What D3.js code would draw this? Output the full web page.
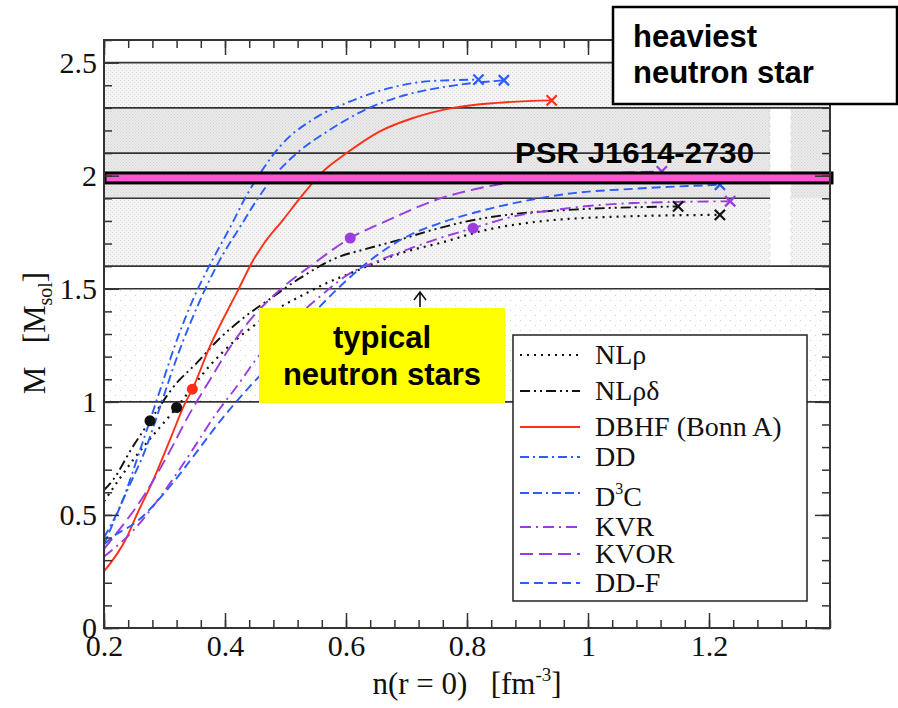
<!DOCTYPE html>
<html>
<head>
<meta charset="utf-8">
<script src="https://cdn.jsdelivr.net/npm/d3@7"></script>
<style>
  body { margin: 0; background: #fff; }
  svg { display: block; }
  .serif, .serif text { font-family: 'Liberation Serif', 'DejaVu Serif', serif; }
  .sans { font-family: 'Liberation Sans', 'DejaVu Sans', sans-serif; font-weight: bold; }
</style>
</head>
<body>
<div id="chart"></div>
<script>
// Curvas masa - densidad central  [n (fm^-3), M (M_sol)]
const nlRho = [[0.2,0.56],[0.25,0.75],[0.32,0.975],[0.375,1.16],[0.414,1.265],[0.447,1.335],[0.48,1.40],[0.524,1.466],[0.568,1.525],[0.604,1.565],[0.7,1.665],[0.755,1.702],[0.833,1.761],[0.921,1.798],[1.064,1.82],[1.218,1.827]]
const nlRhoDelta = [[0.2,0.61],[0.215,0.655],[0.246,0.795],[0.276,0.916],[0.32,1.083],[0.353,1.171],[0.386,1.267],[0.43,1.37],[0.48,1.466],[0.524,1.547],[0.59,1.643],[0.629,1.673],[0.689,1.717],[0.744,1.761],[0.8,1.798],[0.866,1.827],[0.976,1.85],[1.149,1.864]]
const dbhf = [[0.2,0.25],[0.2375,0.40],[0.254,0.50],[0.2815,0.655],[0.309,0.832],[0.334,0.994],[0.346,1.056],[0.375,1.245],[0.422,1.496],[0.447,1.628],[0.463,1.695],[0.496,1.805],[0.524,1.901],[0.562,2.019],[0.601,2.10],[0.656,2.196],[0.711,2.255],[0.777,2.30],[0.849,2.322],[0.94,2.333]]
const dd = [[0.2,0.40],[0.23,0.56],[0.26,0.79],[0.29,1.03],[0.32,1.27],[0.35,1.47],[0.37,1.58],[0.414,1.80],[0.431,1.89],[0.458,2.01],[0.491,2.13],[0.546,2.25],[0.601,2.322],[0.673,2.388],[0.739,2.418],[0.819,2.425]]
const d3c = [[0.2,0.37],[0.237,0.60],[0.27,0.80],[0.293,0.98],[0.321,1.2],[0.359,1.45],[0.386,1.6],[0.431,1.80],[0.452,1.89],[0.485,2.01],[0.519,2.10],[0.574,2.204],[0.629,2.288],[0.7,2.358],[0.766,2.394],[0.861,2.422]]
const kvr = [[0.2,0.316],[0.248,0.43],[0.293,0.58],[0.342,0.77],[0.386,0.95],[0.42,1.07],[0.452,1.19],[0.502,1.333],[0.557,1.466],[0.607,1.569],[0.645,1.615],[0.7,1.672],[0.755,1.724],[0.81,1.768],[0.877,1.82],[0.948,1.85],[1.075,1.879],[1.235,1.887]]
const kvor = [[0.2,0.35],[0.221,0.42],[0.265,0.581],[0.304,0.758],[0.342,0.95],[0.375,1.097],[0.403,1.22],[0.441,1.36],[0.491,1.496],[0.546,1.61],[0.607,1.724],[0.667,1.80],[0.75,1.894],[0.849,1.96],[0.95,1.995],[1.122,2.019]]
const ddF = [[0.2,0.37],[0.215,0.404],[0.254,0.47],[0.304,0.61],[0.348,0.76],[0.392,0.915],[0.44,1.065],[0.48,1.18],[0.513,1.289],[0.557,1.422],[0.59,1.51],[0.645,1.636],[0.7,1.73],[0.755,1.79],[0.81,1.835],[0.893,1.887],[0.976,1.923],[1.075,1.942],[1.218,1.96]]

// puntos marcados (umbral)
const dotsNlRho = [[0.32,0.975]]
const dotsNlRhoDelta = [[0.276,0.916]]
const dotsDbhf = [[0.346,1.056]]
const dotsKvor = [[0.607,1.724]]
const dotsKvr = [[0.81,1.768]]

// nombres de la leyenda
const names = ["NLρ", "NLρδ", "DBHF (Bonn A)", "DD", "D3C", "KVR", "KVOR", "DD-F"]

// ejes
const xMajor = [0.2, 0.4, 0.6, 0.8, 1, 1.2]
const yMajor = [0, 0.5, 1, 1.5, 2, 2.5]
const xMinor = d3.range(31).map(i => +(0.2 + i * 0.04).toFixed(2))
const yMinor = d3.range(27).map(i => i / 10)

// bandas de masas observadas
const bandLines = [2.5, 2.3, 2.1, 1.9, 1.6, 1.5, 1.0]
const psrMass = 1.99

const BLACK = "#111", RED = "#ff3015", BLUE = "#2a5cff", PURPLE = "#9a3ce0"
const SERIF = "'Liberation Serif', 'DejaVu Serif', serif"

const series = [
  { data: nlRho,      color: BLACK,  dash: "2,5",            dots: dotsNlRho },
  { data: nlRhoDelta, color: BLACK,  dash: "10,4,2,4,2,4",   dots: dotsNlRhoDelta },
  { data: dbhf,       color: RED,    dash: null,             dots: dotsDbhf },
  { data: dd,         color: BLUE,   dash: "9,4,2,4",        dots: [] },
  { data: d3c,        color: BLUE,   dash: "9,4,9,4,2,4",    dots: [] },
  { data: kvr,        color: PURPLE, dash: "11,5,2,5",       dots: dotsKvr },
  { data: kvor,       color: PURPLE, dash: "13,6",           dots: dotsKvor },
  { data: ddF,        color: BLUE,   dash: "9,5",            dots: [] }
]

const svg = d3.select("#chart").append("svg")
  .attr("width", 898).attr("height", 708)

// Escalas
const x = d3.scaleLinear().domain([0.2, 1.4]).range([104, 830])
const y = d3.scaleLinear().domain([0, 2.6]).range([628, 40])

// Texturas punteadas
const defs = svg.append("defs")
const pat = (id, size, bg, dot) => {
  const p = defs.append("pattern").attr("id", id)
    .attr("width", size).attr("height", size).attr("patternUnits", "userSpaceOnUse")
  p.append("rect").attr("width", size).attr("height", size).attr("fill", bg)
  p.append("rect").attr("x", 0).attr("y", 0).attr("width", 1).attr("height", 1).attr("fill", dot)
  p.append("rect").attr("x", size / 2).attr("y", size / 2).attr("width", 1).attr("height", 1).attr("fill", dot)
}
pat("light", 4, "#f4f4f4", "#d9d9d9")
pat("dense", 3, "#ebebeb", "#d2d2d2")
pat("sparse", 10, "#ffffff", "#cfcfcf")

const bands = [[2.5, 2.3, "light"], [2.3, 1.9, "dense"], [1.9, 1.6, "light"], [1.5, 1.0, "sparse"]]
svg.append("g").selectAll("rect").data(bands).join("rect")
  .attr("x", x(0.2)).attr("width", x(1.4) - x(0.2))
  .attr("y", d => y(d[0])).attr("height", d => y(d[1]) - y(d[0]))
  .attr("fill", d => `url(#${d[2]})`)

// franja blanca
const stripX = [1.3008, 1.3355]
svg.append("rect")
  .attr("x", x(stripX[0])).attr("width", x(stripX[1]) - x(stripX[0]))
  .attr("y", y(2.3)).attr("height", y(1.6) - y(2.3))
  .attr("fill", "#fff")
svg.append("g").selectAll("line").data(stripX).join("line")
  .attr("x1", d => x(d)).attr("x2", d => x(d))
  .attr("y1", y(2.3)).attr("y2", y(1.6))
  .attr("stroke", "#ddd").attr("stroke-dasharray", "4,4")

// lineas horizontales
svg.append("g").selectAll("line").data(bandLines).join("line")
  .attr("x1", x(0.2))
  .attr("x2", d => (d === 2.1 || d === 1.9) ? x(stripX[0]) : x(1.4))
  .attr("y1", d => y(d)).attr("y2", d => y(d))
  .attr("stroke", "#333").attr("stroke-width", 1.6)

// Curvas
const line = d3.line().x(d => x(d[0])).y(d => y(d[1])).curve(d3.curveMonotoneX)
svg.append("g").selectAll("path").data(series).join("path")
  .attr("d", d => line(d.data))
  .attr("fill", "none")
  .attr("stroke", d => d.color)
  .attr("stroke-width", d => d.dash === "2,5" ? 2.2 : 1.9)
  .attr("stroke-dasharray", d => d.dash)

// cruces finales
const cross = d3.symbol().type(d3.symbolTimes || d3.symbolX).size(70)
svg.append("g").selectAll("path").data(series).join("path")
  .attr("d", cross)
  .attr("transform", d => {
    const p = d.data[d.data.length - 1]
    return `translate(${x(p[0])},${y(p[1])})`
  })
  .attr("fill", "none").attr("stroke", d => d.color).attr("stroke-width", 2.2)

// puntos
svg.append("g").selectAll("circle")
  .data(series.flatMap(s => s.dots.map(p => ({ p, color: s.color }))))
  .join("circle")
  .attr("cx", d => x(d.p[0])).attr("cy", d => y(d.p[1]))
  .attr("r", 5.5).attr("fill", d => d.color)

// barra PSR J1614-2730
svg.append("rect")
  .attr("x", x(0.2) + 1).attr("width", x(1.4) - x(0.2) + 1)
  .attr("y", y(psrMass + 0.022)).attr("height", y(psrMass - 0.022) - y(psrMass + 0.022))
  .attr("fill", "#ff55d2").attr("stroke", "#000").attr("stroke-width", 3)
svg.append("text").attr("class", "sans")
  .attr("x", 515).attr("y", 163)
  .attr("font-size", 30)
  .attr("textLength", 239).attr("lengthAdjust", "spacingAndGlyphs")
  .text("PSR J1614-2730")

// Ejes
const styleAxis = g => {
  g.select(".domain").remove()
  g.attr("font-family", SERIF).attr("font-size", 30)
  g.selectAll("line").attr("stroke", "#333").attr("stroke-width", 1.5)
  g.selectAll("text").attr("fill", "#111").style("font-family", SERIF)
}
svg.append("g").attr("transform", `translate(0,${y(0)})`)
  .call(d3.axisBottom(x).tickValues(xMinor).tickSize(-8).tickFormat("")).call(styleAxis)
svg.append("g").attr("transform", `translate(0,${y(0)})`)
  .call(d3.axisBottom(x).tickValues(xMajor).tickSize(-15).tickPadding(7).tickFormat(d3.format("~g"))).call(styleAxis)
svg.append("g").attr("transform", `translate(0,${y(2.6)})`)
  .call(d3.axisTop(x).tickValues(xMinor).tickSize(-8).tickFormat("")).call(styleAxis)
svg.append("g").attr("transform", `translate(0,${y(2.6)})`)
  .call(d3.axisTop(x).tickValues(xMajor).tickSize(-15).tickFormat("")).call(styleAxis)
svg.append("g").attr("transform", `translate(${x(0.2)},0)`)
  .call(d3.axisLeft(y).tickValues(yMinor).tickSize(-8).tickFormat("")).call(styleAxis)
svg.append("g").attr("transform", `translate(${x(0.2)},0)`)
  .call(d3.axisLeft(y).tickValues(yMajor).tickSize(-15).tickPadding(7).tickFormat(d3.format("~g"))).call(styleAxis)
svg.append("g").attr("transform", `translate(${x(1.4)},0)`)
  .call(d3.axisRight(y).tickValues(yMinor).tickSize(-8).tickFormat("")).call(styleAxis)
svg.append("g").attr("transform", `translate(${x(1.4)},0)`)
  .call(d3.axisRight(y).tickValues(yMajor).tickSize(-15).tickFormat("")).call(styleAxis)

// marco
svg.append("rect")
  .attr("x", x(0.2)).attr("y", y(2.6))
  .attr("width", x(1.4) - x(0.2)).attr("height", y(0) - y(2.6))
  .attr("fill", "none").attr("stroke", "#333").attr("stroke-width", 2)

// titulos de ejes
const xt = svg.append("text").attr("class", "serif")
  .attr("x", 467).attr("y", 694).attr("text-anchor", "middle")
  .attr("font-size", 31).attr("fill", "#111")
xt.append("tspan").text("n(r = 0)\u00a0\u00a0\u00a0[fm")
xt.append("tspan").attr("font-size", 19).attr("dy", -13).text("-3")
xt.append("tspan").attr("dy", 13).text("]")

const yt = svg.append("text").attr("class", "serif")
  .attr("transform", "translate(45,333) rotate(-90)").attr("text-anchor", "middle")
  .attr("font-size", 31).attr("fill", "#111")
yt.append("tspan").text("M\u00a0\u00a0\u00a0[M")
yt.append("tspan").attr("font-size", 20).attr("dy", 7).text("sol")
yt.append("tspan").attr("dy", -7).text("]")

// caja "typical neutron stars"
svg.append("path")
  .attr("d", "M420,307 L420,293 M414,300 L420,292 L426,300")
  .attr("fill", "none").attr("stroke", "#111").attr("stroke-width", 1.6)
svg.append("rect").attr("x", 259).attr("y", 308).attr("width", 246).attr("height", 95)
  .attr("fill", "#ffff00")
svg.append("g").selectAll("text").data(["typical", "neutron stars"]).join("text")
  .attr("class", "sans")
  .attr("x", 382).attr("y", (d, i) => 348 + i * 37).attr("text-anchor", "middle")
  .attr("font-size", 31).attr("fill", "#000")
  .text(d => d)

// Leyenda
const legendRowY = [355, 391, 427, 457, 493, 527, 554, 583]
const leg = svg.append("g")
leg.append("rect").attr("x", 513).attr("y", 335).attr("width", 294).attr("height", 266)
  .attr("fill", "#fff").attr("stroke", "#222").attr("stroke-width", 1.5)
leg.selectAll("line").data(series).join("line")
  .attr("x1", 520).attr("x2", 580)
  .attr("y1", (d, i) => legendRowY[i]).attr("y2", (d, i) => legendRowY[i])
  .attr("stroke", d => d.color).attr("stroke-width", d => d.dash === "2,5" ? 2.2 : 1.9)
  .attr("stroke-dasharray", d => d.dash)
const lt = leg.selectAll("text").data(names).join("text")
  .attr("class", "serif")
  .attr("x", 595).attr("y", (d, i) => legendRowY[i] + (d === "D3C" ? 13 : 9))
  .attr("font-size", 28).attr("fill", "#111")
lt.filter(d => d !== "D3C").text(d => d)
lt.filter(d => d === "D3C").each(function () {
  const t = d3.select(this)
  t.append("tspan").text("D")
  t.append("tspan").attr("font-size", 16).attr("dy", -12).text("3")
  t.append("tspan").attr("dy", 12).text("C")
})

// caja "heaviest neutron star"
svg.append("rect").attr("x", 613).attr("y", 7).attr("width", 284).attr("height", 97)
  .attr("fill", "#fff").attr("stroke", "#000").attr("stroke-width", 2.5)
svg.append("g").selectAll("text").data(["heaviest", "neutron star"]).join("text")
  .attr("class", "sans")
  .attr("x", 633).attr("y", (d, i) => 47 + i * 36)
  .attr("font-size", 31).attr("fill", "#000")
  .text(d => d)
</script>
</body>
</html>
